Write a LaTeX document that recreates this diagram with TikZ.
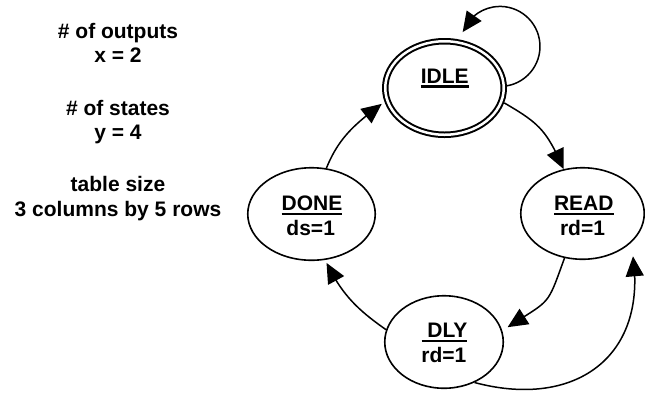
\documentclass[tikz,border=0pt]{standalone}
\usepackage{fontspec}
\setmainfont{Liberation Sans}
\usetikzlibrary{arrows.meta,bending,shapes.geometric}
\newsavebox\ulsave
\newcommand{\ulbox}[1]{\sbox\ulsave{#1}\rlap{\rule[-4.5pt]{\wd\ulsave}{2.2pt}}\usebox\ulsave}
\begin{document}
\begin{tikzpicture}[x=1pt,y=1pt,
  state/.style={ellipse, draw, line width=1.6pt, inner sep=0pt},
  txt/.style={anchor=base, inner sep=0pt, font=\fontsize{21}{24}\selectfont\bfseries},
  conn/.style={line width=1.5pt, -{Triangle[length=20pt,width=18pt]}}]
\useasboundingbox (0,0) rectangle (645,-392);
% states
\node[state, minimum width=127.5pt, minimum height=92.5pt] (done) at (311.5,-214) {};
\node[state, minimum width=123.5pt, minimum height=91.5pt] (read) at (582.5,-213.5) {};
\node[state, minimum width=118.5pt, minimum height=92.5pt] (dly) at (444,-342) {};
\node[ellipse, draw, line width=2pt, double, double distance=2.5pt, minimum width=118.5pt, minimum height=93.5pt, inner sep=0pt, outer sep=3.25pt] (idle) at (444.5,-88) {};
% state texts
\node[txt] (idlet) at (444.8,-83) {\ulbox{IDLE}};
\node[txt] (donet) at (312,-210.7) {\ulbox{DONE}};
\node[txt] (dones) at (310.7,-235) {ds=1};
\node[txt] (readt) at (583.8,-210.7) {\ulbox{READ}};
\node[txt] (reads) at (582.5,-235) {rd=1};
\node[txt] (dlyt) at (444.5,-337.7) {\ulbox{\ DLY}};
\node[txt] (dlys) at (443.8,-362.3) {rd=1};
% left texts
\node[txt] (l1) at (118,-38) {\# of outputs};
\node[txt] (l2) at (118,-62.5) {x = 2};
\node[txt] (l3) at (118,-115.5) {\# of states};
\node[txt] (l4) at (118,-139.5) {y = 4};
\node[txt] (l5) at (118,-191) {table size};
\node[txt] (l6) at (118,-216) {3 columns by 5 rows};
% connectors
\draw[conn] (idle.2) arc[start angle=-80, end angle=159, radius=40];
\draw[conn] (idle.-14) to[out=-30,in=114,looseness=1.2] (read.113.6);
\draw[conn] (read.-112) to[out=-110,in=33,looseness=1.5] ([shift={(6pt,1.5pt)}]dly.13);
\draw[conn] (dly.168) to[out=145,in=-64] ([shift={(1pt,-3pt)}]done.-73);
\draw[conn] (done.72) to[out=68,in=217] ([xshift=-3.5pt]idle.195);
\draw[conn] (dly.-53) to[out=-15,in=-82,looseness=1.3] ([shift={(9pt,-8pt)}]read.-40);
\end{tikzpicture}
\end{document}
